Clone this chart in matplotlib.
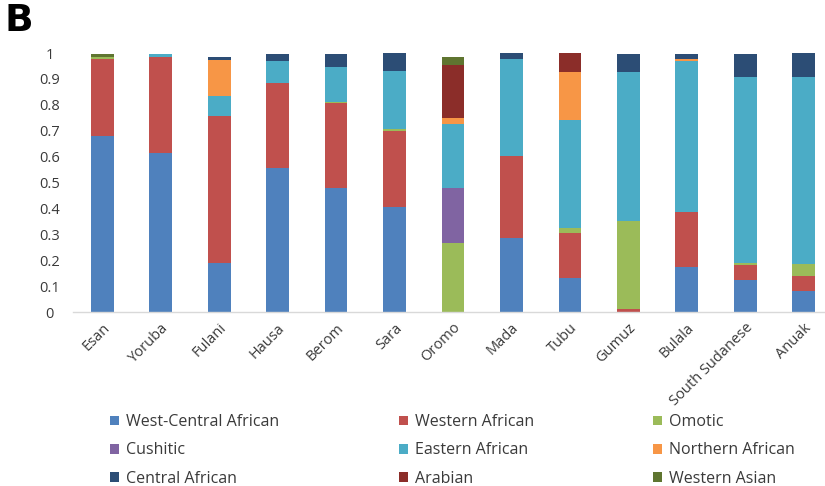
import numpy as np
import matplotlib.pyplot as plt
from matplotlib.patches import Patch

# populations along the x axis
populations = ['Esan', 'Yoruba', 'Fulani', 'Hausa', 'Berom', 'Sara', 'Oromo',
               'Mada', 'Tubu', 'Gumuz', 'Bulala', 'South Sudanese', 'Anuak']

# ancestry proportions per population (stacked bottom to top)
west_central = [0.680, 0.615, 0.190, 0.555, 0.478, 0.404, 0.000, 0.285, 0.130, 0.000, 0.175, 0.124, 0.082]
western      = [0.295, 0.370, 0.568, 0.330, 0.330, 0.296, 0.000, 0.319, 0.176, 0.012, 0.212, 0.057, 0.057]
omotic       = [0.010, 0.000, 0.000, 0.000, 0.004, 0.005, 0.265, 0.000, 0.020, 0.339, 0.000, 0.009, 0.046]
cushitic     = [0.000, 0.000, 0.000, 0.000, 0.000, 0.000, 0.215, 0.000, 0.000, 0.000, 0.000, 0.000, 0.000]
eastern      = [0.000, 0.013, 0.077, 0.084, 0.135, 0.227, 0.245, 0.372, 0.415, 0.574, 0.582, 0.716, 0.721]
northern     = [0.000, 0.000, 0.138, 0.000, 0.000, 0.000, 0.023, 0.000, 0.184, 0.000, 0.008, 0.000, 0.000]
central      = [0.000, 0.000, 0.010, 0.026, 0.049, 0.068, 0.000, 0.023, 0.000, 0.070, 0.020, 0.089, 0.093]
arabian      = [0.000, 0.000, 0.000, 0.000, 0.000, 0.000, 0.206, 0.000, 0.074, 0.000, 0.000, 0.000, 0.000]
western_asian = [0.013, 0.000, 0.000, 0.000, 0.000, 0.000, 0.029, 0.000, 0.000, 0.000, 0.000, 0.000, 0.000]

series = [west_central, western, omotic, cushitic, eastern,
          northern, central, arabian, western_asian]
names = ['West-Central African', 'Western African', 'Omotic',
         'Cushitic', 'Eastern African', 'Northern African',
         'Central African', 'Arabian', 'Western Asian']
colors = ['#4F81BD', '#C0504D', '#9BBB59', '#8064A2', '#4BACC6',
          '#F79646', '#2C4D75', '#8B2D29', '#5F7530']

y_ticks = [0, 0.1, 0.2, 0.3, 0.4, 0.5, 0.6, 0.7, 0.8, 0.9, 1.0]
y_tick_labels = ['0', '0.1', '0.2', '0.3', '0.4', '0.5', '0.6', '0.7', '0.8', '0.9', '1']

plt.rcParams['font.family'] = ['Open Sans', 'DejaVu Sans']
text_col = '#3A3A3A'

fig = plt.figure(figsize=(8.25, 4.86), dpi=100)
W, H = 825, 486
ax = fig.add_axes([73 / W, (H - 312) / H, 760 / W, 259 / H])

x = np.arange(len(populations))
bottom = np.zeros(len(populations))
for vals, name, col in zip(series, names, colors):
    ax.bar(x, vals, 0.39, bottom=bottom, color=col, label=name, linewidth=0)
    bottom += np.array(vals)

ax.set_xlim(-0.5, len(populations) - 0.5)
ax.set_ylim(0, 1.0)
ax.set_yticks(y_ticks)
ax.set_yticklabels(y_tick_labels, ha='center', fontsize=10.5, color=text_col)
ax.set_xticks(x)
ax.set_xticklabels(populations, rotation=45, ha='right', rotation_mode='anchor',
                   fontsize=10.5, color=text_col)
ax.tick_params(axis='y', length=0, pad=17)
ax.tick_params(axis='x', length=0, pad=6)
for s in ['top', 'right', 'left']:
    ax.spines[s].set_visible(False)
ax.spines['bottom'].set_color('#D9D9D9')
ax.spines['bottom'].set_linewidth(1)

# legend: three columns placed separately, read row by row
col_x = [110, 399, 653]
for c in range(3):
    handles = [Patch(facecolor=colors[c + 3 * r], edgecolor='none') for r in range(3)]
    labels = [names[c + 3 * r] for r in range(3)]
    fig.legend(handles, labels, loc='upper left',
               bbox_to_anchor=(col_x[c] / W, (H - 414) / H),
               frameon=False, fontsize=11.5, labelcolor=text_col,
               handlelength=0.55, handleheight=0.55, handletextpad=0.45,
               labelspacing=0.78, borderpad=0, borderaxespad=0)

fig.text(4 / W, (H - 3) / H, 'B', fontsize=27, fontweight='bold',
         family='DejaVu Sans', va='top', ha='left')

fig.savefig('out.png', dpi=100)
